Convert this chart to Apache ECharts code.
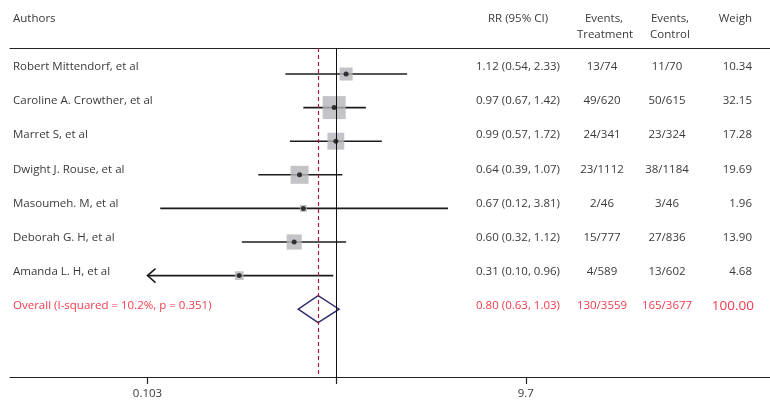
<!DOCTYPE html>
<html lang="en">
<head>
<meta charset="utf-8">
<title>Forest plot - magnesium sulfate</title>
<style>
  * { margin: 0; padding: 0; }
  #chart-container { width: 770px; height: 408px; }
</style>
</head>
<body>
<div id="chart-container"></div>
<script src="https://cdn.jsdelivr.net/npm/echarts@6/dist/echarts.min.js"></script>
<script>
var authors = ['Robert Mittendorf, et al', 'Caroline A. Crowther, et al', 'Marret S, et al',
  'Dwight J. Rouse, et al', 'Masoumeh. M, et al', 'Deborah G. H, et al', 'Amanda L. H, et al'];
var rr = [1.12, 0.97, 0.99, 0.64, 0.67, 0.60, 0.31];
var lower = [0.54, 0.67, 0.57, 0.39, 0.12, 0.32, 0.10];
var upper = [2.33, 1.42, 1.72, 1.07, 3.81, 1.12, 0.96];
var eventsTreatment = ['13/74', '49/620', '24/341', '23/1112', '2/46', '15/777', '4/589'];
var eventsControl = ['11/70', '50/615', '23/324', '38/1184', '3/46', '27/836', '13/602'];
var weights = [10.34, 32.15, 17.28, 19.69, 1.96, 13.90, 4.68];

var overallLabel = 'Overall (I-squared = 10.2%, p = 0.351)';
var overallRR = 0.80, overallLower = 0.63, overallUpper = 1.03;
var overallTreatment = '130/3559', overallControl = '165/3677', overallWeight = '100.00';

var xTickValues = [0.103, 1, 9.7];
var xLabelValues = [0.103, 9.7];
var xLabelTexts = ['0.103', '9.7'];

var TEXT = '#3a3a3a', RED = '#f23a4c';
var FONT = '11.5px "Open Sans"';

var dom = document.getElementById('chart-container');
var myChart = echarts.init(dom, null, { renderer: 'canvas' });

function ciText(a, b, c) {
  return a.toFixed(2) + ' (' + b.toFixed(2) + ', ' + c.toFixed(2) + ')';
}

var n = authors.length;
var clipMin = xTickValues[0];

var tableRows = [];
for (var i = 0; i < n; i++) {
  tableRows.push([i, authors[i], ciText(rr[i], lower[i], upper[i]), eventsTreatment[i],
    eventsControl[i], weights[i].toFixed(2), 0]);
}
tableRows.push([n, overallLabel, ciText(overallRR, overallLower, overallUpper), overallTreatment,
  overallControl, overallWeight, 1]);

var option = {
  animation: false,
  grid: { left: 10, right: 0, top: 48, bottom: 31 },
  xAxis: [{
    type: 'log',
    min: 0.01974,
    max: 182.4,
    axisLine: { onZero: false, lineStyle: { color: '#222', width: 1.2 } },
    axisTick: { show: true, length: 7, customValues: xTickValues, lineStyle: { color: '#222', width: 1.2 } },
    minorTick: { show: false },
    axisLabel: {
      customValues: xLabelValues,
      margin: 11,
      color: TEXT,
      fontFamily: 'Open Sans',
      fontSize: 11.5,
      formatter: function (v) {
        var best = 0;
        for (var k = 1; k < xLabelValues.length; k++) {
          if (Math.abs(Math.log(v / xLabelValues[k])) < Math.abs(Math.log(v / xLabelValues[best]))) best = k;
        }
        return xLabelTexts[best];
      }
    },
    splitLine: { show: false }
  }, {
    type: 'value',
    position: 'top',
    min: 0,
    max: 1,
    axisLine: { show: true, onZero: false, lineStyle: { color: '#222', width: 1.2 } },
    axisTick: { show: false },
    axisLabel: { show: false },
    splitLine: { show: false }
  }],
  yAxis: {
    type: 'value',
    inverse: true,
    min: -0.774,
    max: 9.018,
    show: false
  },
  graphic: [
    { type: 'text', x: 13, y: 19, style: { text: 'Authors', font: FONT, fill: TEXT, verticalAlign: 'middle' } },
    { type: 'text', x: 518, y: 19, style: { text: 'RR (95% CI)', font: FONT, fill: TEXT, align: 'center', verticalAlign: 'middle' } },
    { type: 'text', x: 604, y: 19, style: { text: 'Events,', font: FONT, fill: TEXT, align: 'center', verticalAlign: 'middle' } },
    { type: 'text', x: 605, y: 35, style: { text: 'Treatment', font: FONT, fill: TEXT, align: 'center', verticalAlign: 'middle' } },
    { type: 'text', x: 670, y: 19, style: { text: 'Events,', font: FONT, fill: TEXT, align: 'center', verticalAlign: 'middle' } },
    { type: 'text', x: 670, y: 35, style: { text: 'Control', font: FONT, fill: TEXT, align: 'center', verticalAlign: 'middle' } },
    { type: 'text', x: 752, y: 19, style: { text: 'Weigh', font: FONT, fill: TEXT, align: 'right', verticalAlign: 'middle' } }
  ],
  series: [
    {
      // study weight boxes
      type: 'scatter',
      symbol: 'rect',
      symbolSize: function (val) { return Math.max(7, 4.06 * Math.sqrt(val[2])); },
      itemStyle: { color: '#b5b5ba' },
      data: rr.map(function (v, k) { return [v, k, weights[k]]; }),
      markLine: {
        silent: true,
        symbol: 'none',
        label: { show: false },
        data: [
          { xAxis: 1, lineStyle: { type: 'solid', color: '#111', width: 1 } },
          { xAxis: overallRR, lineStyle: { type: [4, 3], color: '#a3203c', width: 1.2 } }
        ]
      }
    },
    {
      // confidence intervals
      type: 'custom',
      data: lower.map(function (v, k) { return [v, upper[k], k]; }),
      encode: { x: [0, 1], y: 2 },
      renderItem: function (params, api) {
        var lo = api.value(0), hi = api.value(1), row = api.value(2);
        var clipped = lo < clipMin;
        var p0 = api.coord([clipped ? clipMin : lo, row]);
        var p1 = api.coord([hi, row]);
        var style = { stroke: '#1c1c1c', lineWidth: 1.6, fill: null };
        var children = [{ type: 'line', shape: { x1: p0[0], y1: p0[1], x2: p1[0], y2: p1[1] }, style: style }];
        if (clipped) {
          children.push({
            type: 'polyline',
            shape: { points: [[p0[0] + 8, p0[1] - 7], [p0[0], p0[1]], [p0[0] + 8, p0[1] + 7]] },
            style: style
          });
        }
        return { type: 'group', children: children };
      }
    },
    {
      // point estimates
      type: 'scatter',
      symbol: 'circle',
      symbolSize: 5,
      itemStyle: { color: '#111' },
      data: rr.map(function (v, k) { return [v, k]; })
    },
    {
      // overall diamond
      type: 'custom',
      data: [[overallLower, overallRR, overallUpper, n]],
      encode: { x: [0, 1, 2], y: 3 },
      renderItem: function (params, api) {
        var row = api.value(3);
        var l = api.coord([api.value(0), row]);
        var m = api.coord([api.value(1), row]);
        var r = api.coord([api.value(2), row]);
        var h = 13.5;
        return {
          type: 'polygon',
          shape: { points: [[l[0], l[1]], [m[0], m[1] - h], [r[0], r[1]], [m[0], m[1] + h]] },
          style: { fill: '#fff', stroke: '#2e2e6e', lineWidth: 1.4 }
        };
      }
    },
    {
      // table text
      type: 'custom',
      data: tableRows,
      encode: { y: 0 },
      renderItem: function (params, api) {
        var d = tableRows[params.dataIndex];
        var row = d[0];
        var y = api.coord([1, row * 1.018 - 0.217])[1];
        var isOverall = d[6] === 1;
        var col = isOverall ? RED : TEXT;
        function t(x, s, align, font) {
          return { type: 'text', x: x, y: y, style: { text: s, font: font || FONT, fill: col, align: align, verticalAlign: 'middle' } };
        }
        return {
          type: 'group',
          children: [
            t(13, d[1], 'left'),
            t(518, d[2], 'center'),
            t(602, d[3], 'center'),
            t(667, d[4], 'center'),
            t(isOverall ? 754 : 752, d[5], 'right', isOverall ? '13.5px "Open Sans"' : FONT)
          ]
        };
      }
    }
  ]
};

myChart.setOption(option);
window.addEventListener('resize', myChart.resize);
</script>
</body>
</html>
